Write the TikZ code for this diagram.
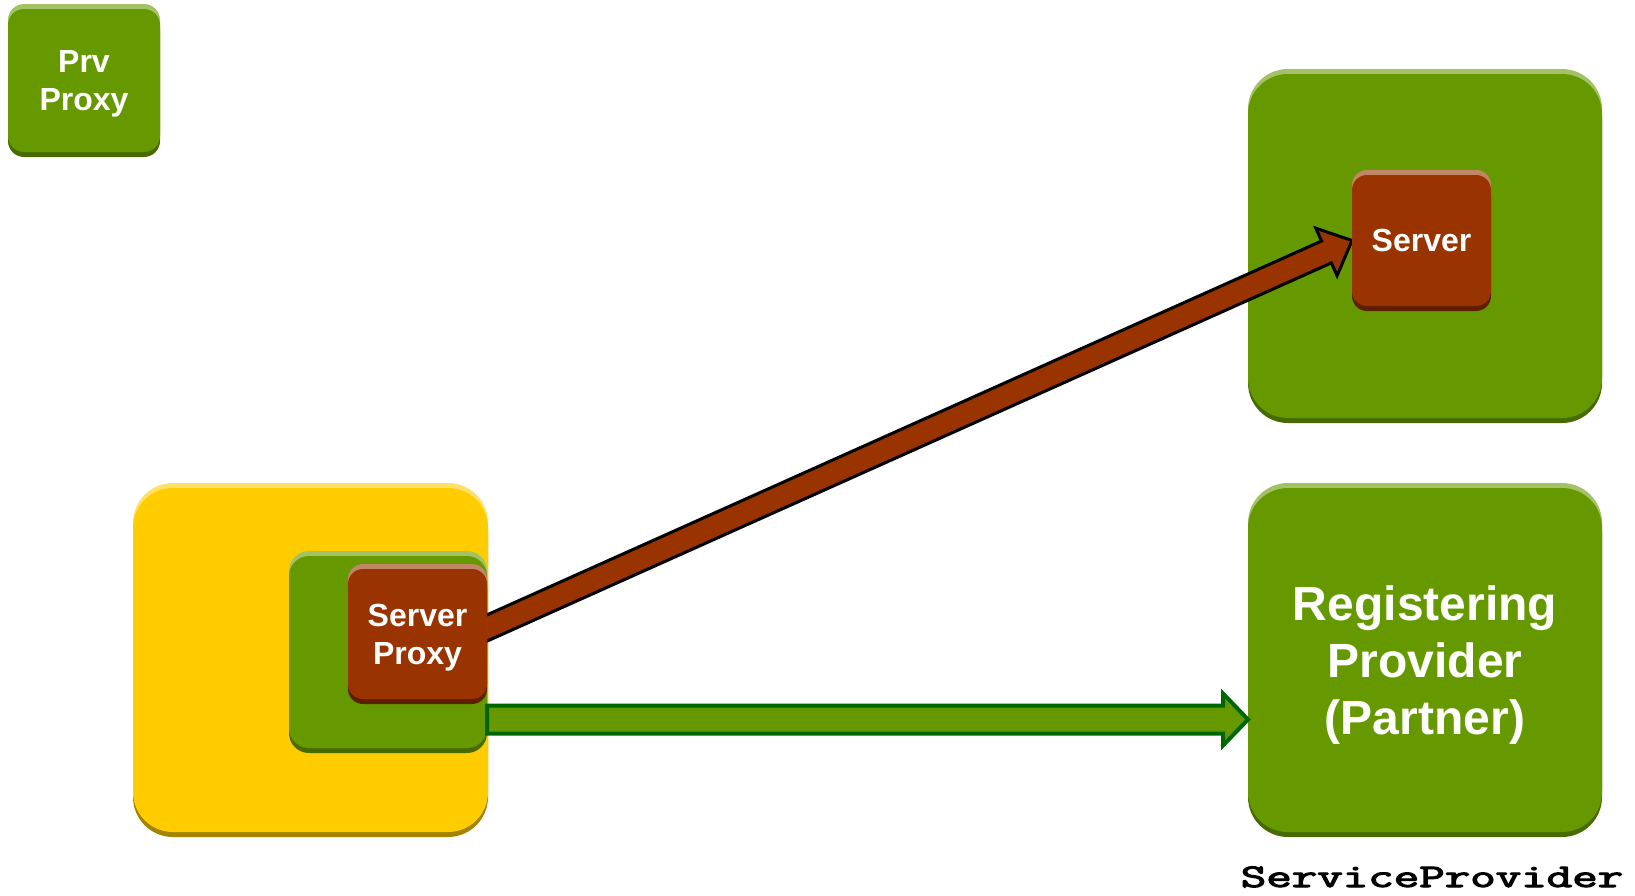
\documentclass[tikz,border=0pt]{standalone}
\usepackage{fontspec}
\setmainfont{Liberation Sans}
\newfontfamily\codefont{Latin Modern Mono}[FakeBold=3]
\usepackage{graphicx}
\usetikzlibrary{calc}
\pgfdeclarelayer{back}
\pgfdeclarelayer{arrows}
\pgfsetlayers{back,arrows,main}

\definecolor{grn}{HTML}{669900}
\definecolor{grnlight}{HTML}{A3C266}
\definecolor{grndark}{HTML}{476B00}
\definecolor{ylw}{HTML}{FFCC00}
\definecolor{ylwlight}{HTML}{FFE066}
\definecolor{ylwdark}{HTML}{A38300}
\definecolor{brn}{HTML}{993300}
\definecolor{brnlight}{HTML}{C28566}
\definecolor{brndark}{HTML}{5C1F00}
\definecolor{arrowgreen}{HTML}{006600}

\tikzset{
  tile/.style={inner sep=0pt, outer sep=0pt, text=white, align=center, text depth=0pt,
    font=\bfseries\fontsize{32}{38}\selectfont},
  bigtext/.style={font=\bfseries\fontsize{48}{57}\selectfont},
  redarrow/.style={fill=brn, draw=black, line width=3pt, line join=miter},
  greenarrow/.style={fill=grn, draw=arrowgreen, line width=4pt, line join=miter},
}

% raised tile: light band on top, dark band below, main face as a named node
% #1 name, #2 x0, #3 y0, #4 x1, #5 y1, #6 palette, #7 corner radius, #8 extra style, #9 text
\newcommand\tilebox[9]{%
  \fill[#6light, rounded corners=#7pt] (#2,#3) rectangle (#4,#5-10);
  \fill[#6dark, rounded corners=#7pt] (#2,#3+10) rectangle (#4,#5);
  \node[tile, fill=#6, rounded corners=#7pt, minimum width={#4-#2},
    minimum height={#5-#3-10}, #8] (#1) at ({(#2+#4)/2},{(#3+#5)/2}) {#9};
}

% block arrow: #1 style, #2 start, #3 tip, #4 shaft half-width, #5 head half-width, #6 head length
\newcommand\fatarrow[6]{%
  \path ($(#3)!#6!(#2)$) coordinate (fa-h);
  \draw[#1] ($(#2)!#4!90:(#3)$) -- ($(fa-h)!#4!90:(#3)$) -- ($(fa-h)!#5!90:(#3)$)
    -- (#3) -- ($(fa-h)!#5!-90:(#3)$) -- ($(fa-h)!#4!-90:(#3)$)
    -- ($(#2)!#4!-90:(#3)$) -- cycle;
}

\begin{document}
\begin{tikzpicture}[x=1pt, y=-1pt]
  \useasboundingbox (0,0) rectangle (1635,895);

  \begin{pgfonlayer}{back}
    \tilebox{prv}{8}{4}{160}{157}{grn}{16}{}{Prv\\Proxy}
    \tilebox{host}{1248}{69}{1602}{423}{grn}{40}{}{}
    \tilebox{client}{133}{483}{488}{837}{ylw}{40}{}{}
    \tilebox{gc}{289}{551}{487}{753}{grn}{20}{}{}
    \tilebox{rp}{1248}{483}{1602}{837}{grn}{40}{bigtext}{Registering\\Provider\\(Partner)}
  \end{pgfonlayer}

  \tilebox{srv}{1352}{170}{1491}{311}{brn}{15}{}{Server}
  \tilebox{sp}{348}{564}{487}{704}{brn}{15}{}{Server\\Proxy}

  \begin{pgfonlayer}{arrows}
    % proxy to server
    \coordinate (ra) at ($(sp.east)+(0,-6)$);
    \coordinate (rs) at ($(ra)!-25pt!(srv.west)$);
    \fatarrow{redarrow}{rs}{srv.west}{12pt}{26pt}{28pt}
    % proxy host to registering provider
    \coordinate (ga) at ($(gc.south east)+(0,-28.5)$);
    \coordinate (gt) at (rp.west |- ga);
    \fatarrow{greenarrow}{ga}{gt}{14pt}{26pt}{25pt}
  \end{pgfonlayer}

  \node[anchor=base, inner sep=0pt] (sptitle) at (1432,887)
    {\scalebox{1.50}[1]{\codefont\fontsize{33}{33}\selectfont ServiceProvider}};
\end{tikzpicture}
\end{document}
